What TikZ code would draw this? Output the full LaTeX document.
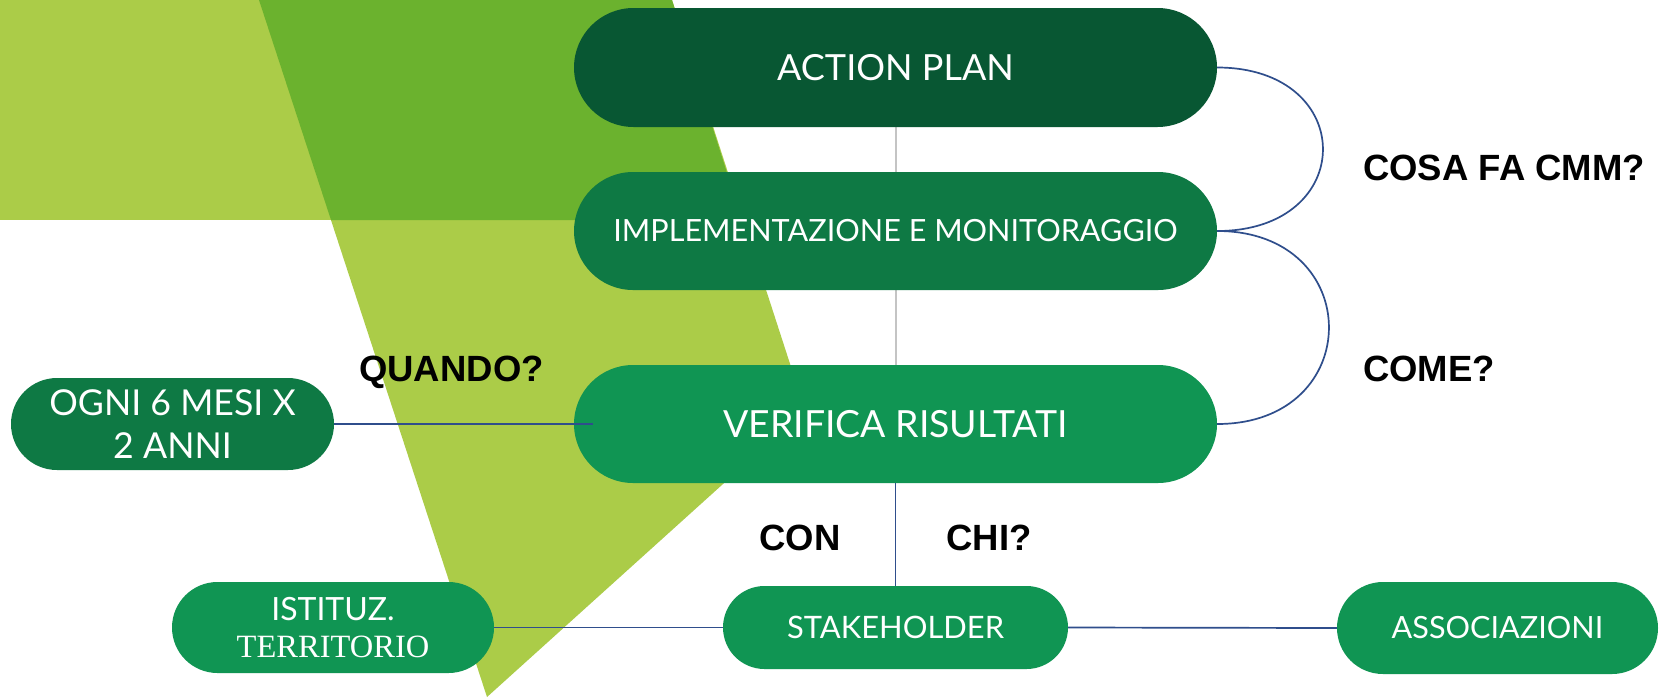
\documentclass[tikz,border=0pt]{standalone}
\usepackage{fontspec}
\setmainfont{Lato}
\newfontfamily\nodefont{Lato}
\newfontfamily\serifnode{Liberation Serif}
\newfontfamily\labfont{Liberation Sans}
\usetikzlibrary{calc,backgrounds}
\definecolor{lightg}{HTML}{ABCC48}
\definecolor{midg}{HTML}{6BB22E}
\definecolor{darkA}{HTML}{085733}
\definecolor{darkB}{HTML}{0E7944}
\definecolor{brightg}{HTML}{109553}
\definecolor{linkblue}{HTML}{2F4E8C}
\definecolor{spine}{HTML}{C4C4C4}
\begin{document}
\begin{tikzpicture}[x=1pt,y=-1pt,
  pillbox/.style={rectangle, inner sep=0pt, text=white, align=center},
  blueline/.style={draw=linkblue, line width=1.7pt},
  greyline/.style={draw=spine, line width=2pt},
  question/.style={inner sep=0pt, font=\labfont\bfseries\fontsize{36.5}{40}\selectfont, text=black}
]
\useasboundingbox (0,0) rectangle (1659,697);
\begin{scope}[on background layer]
  \fill[white] (0,0) rectangle (1659,697);
  \fill[lightg] (0,0) rectangle (500,220);
  \fill[lightg] (259,0) -- (672,0) -- (805,410) -- (487,697) -- cycle;
  \fill[midg] (259,0) -- (672,0) -- (742,220) -- (331,220) -- cycle;
\end{scope}

\node[pillbox, fill=darkA, minimum width=643pt, minimum height=119pt, rounded corners=59.5pt,
  font=\nodefont\fontsize{36}{44}\selectfont] (act) at (895.5,67.5) {ACTION PLAN};
\node[pillbox, fill=darkB, minimum width=643pt, minimum height=118pt, rounded corners=59pt,
  font=\nodefont\fontsize{30.6}{38}\selectfont] (impl) at (895.5,231) {IMPLEMENTAZIONE E MONITORAGGIO};
\node[pillbox, fill=brightg, minimum width=643pt, minimum height=118pt, rounded corners=59pt,
  font=\nodefont\fontsize{37.4}{42}\selectfont] (ver) at (895.5,424) {VERIFICA RISULTATI};
\node[pillbox, fill=darkB, minimum width=323pt, minimum height=92pt, rounded corners=46pt,
  font=\nodefont\fontsize{35.7}{43}\selectfont] (ogni) at (172.5,424) {OGNI 6 MESI X\\2 ANNI};
\node[pillbox, fill=brightg, minimum width=322pt, minimum height=91pt, rounded corners=45.5pt,
  font=\nodefont\fontsize{32}{37}\selectfont] (ist) at (333,627.5) {ISTITUZ.\\{\serifnode\fontsize{32.5}{37}\selectfont TERRITORIO}};
\node[pillbox, fill=brightg, minimum width=345pt, minimum height=83pt, rounded corners=41.5pt,
  font=\nodefont\fontsize{30.9}{36}\selectfont] (stake) at (895.5,627.5) {STAKEHOLDER};
\node[pillbox, fill=brightg, minimum width=321pt, minimum height=92pt, rounded corners=46pt,
  font=\nodefont\fontsize{30.6}{36}\selectfont] (assoc) at (1497.5,628) {ASSOCIAZIONI};

\node[question, anchor=base] (quando) at (451.5,381) {QUANDO?};
\node[question, anchor=base west] (cosa) at (1363,180) {COSA FA CMM?};
\node[question, anchor=base west] (come) at (1363,381) {COME?};
\node[question, anchor=base] (con) at (800,550) {CON};
\node[question, anchor=base] (chi) at (989,550) {CHI?};

\begin{scope}[on background layer]
  \draw[greyline] (act.south) -- (ver.north);
\end{scope}
\draw[blueline] (act.east) .. controls ($(act.east)+(141,0)$) and ($(impl.east)+(141,0)$) .. (impl.east);
\draw[blueline] (impl.east) .. controls ($(impl.east)+(149,0)$) and ($(ver.east)+(149,0)$) .. (ver.east);
\draw[blueline] (ogni.east) -- ($(ver.west)+(19,0)$);
\draw[blueline] (ver.south) -- (stake.north);
\draw[blueline] (ist.east) -- (stake.west);
\draw[blueline] (stake.east) -- (assoc.west);
\end{tikzpicture}
\end{document}
